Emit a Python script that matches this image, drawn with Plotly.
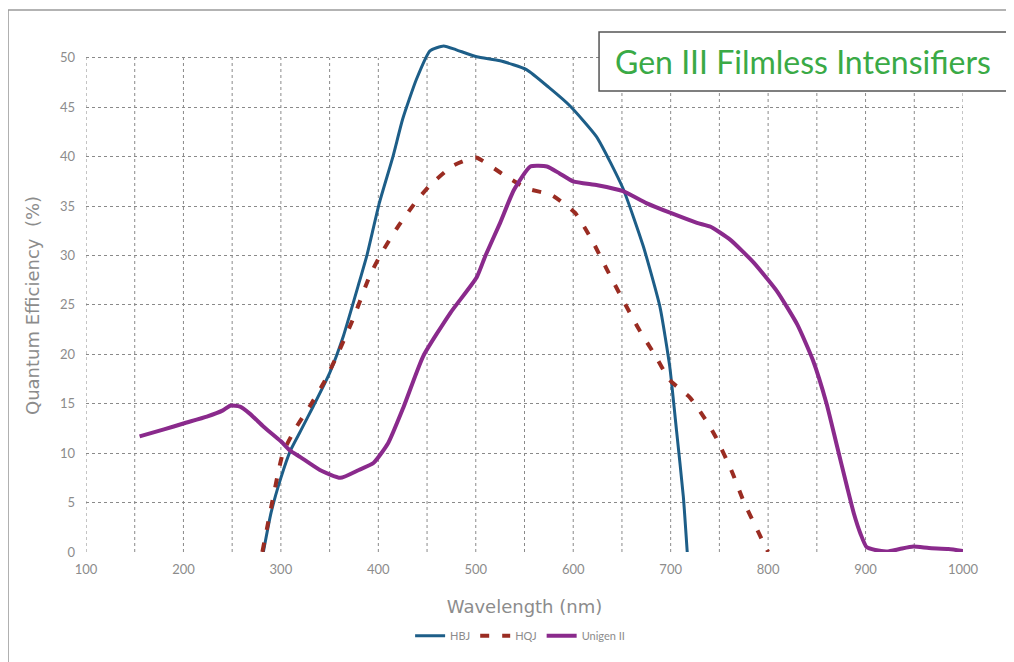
import plotly.graph_objects as go

# ---- data ----
hbj_x = [282, 290, 300, 310, 320, 333, 350, 364, 381, 388, 401, 415, 425, 439, 453,
         467, 480, 501, 525, 552, 575, 597, 624, 651, 672, 689, 699, 706, 713, 717]
hbj_y = [0, 4, 7.5, 10.3, 12.2, 14.7, 18.1, 21.8, 27.5, 29.9, 35.3, 40.0, 43.8, 47.8, 50.7,
         51.2, 50.8, 50.1, 49.7, 48.8, 47.0, 45.1, 42.0, 36.8, 30.9, 24.8, 18.8, 12.3, 5.6, 0]

hqj_x = [281, 290, 302, 315, 330, 345, 360, 375, 391, 403, 420, 439, 453, 477, 500, 528,
         552, 578, 602, 619, 634, 651, 667, 684, 699, 720, 739, 747, 763, 775, 790, 800]
hqj_y = [0, 4.5, 10, 12.5, 14.8, 17.3, 20.4, 23.8, 27.9, 30.2, 32.9, 35.5, 37.1, 39.1, 39.9, 38.2,
         36.8, 36.1, 34.3, 31.6, 28.7, 25.5, 22.6, 19.9, 17.4, 15.6, 12.9, 11.5, 8.1, 5.1, 2.0, 0]

uni_x = [155, 180, 200, 224, 240, 248, 258, 268, 282, 300, 309, 320, 340, 361, 380, 395,
         410, 426, 446, 474, 501, 510, 525, 539, 556, 573, 586, 600, 625, 651, 675, 700,
         727, 741, 761, 785, 809, 830, 846, 860, 870, 881, 888, 895, 901, 910, 922, 935,
         949, 965, 985, 1000]
uni_y = [11.7, 12.4, 13.0, 13.7, 14.3, 14.8, 14.7, 14.0, 12.7, 11.2, 10.3, 9.6, 8.3, 7.5, 8.3, 9.0,
         11.0, 14.7, 19.8, 24.2, 27.8, 30.0, 33.3, 36.6, 39.0, 39.0, 38.3, 37.5, 37.1, 36.5, 35.3, 34.3,
         33.3, 32.9, 31.6, 29.3, 26.4, 23.0, 19.4, 15.0, 11.0, 6.6, 3.9, 1.8, 0.5, 0.2, 0.05, 0.3,
         0.55, 0.4, 0.3, 0.1]

series_names = ["HBJ", "HQJ", "Unigen II"]
x_ticks = [100, 200, 300, 400, 500, 600, 700, 800, 900, 1000]
x_grid_step = 50
y_ticks = [0, 5, 10, 15, 20, 25, 30, 35, 40, 45, 50]

title_text = "Gen III Filmless Intensifiers"
x_title = "Wavelength (nm)"
y_title = "Quantum Efficiency  (%)"

FONT = "Lato"
TFONT = "DejaVu Sans"
GRAY = "#8c8c8c"
GRIDC = "#8a8a8a"

fig = go.Figure()
fig.add_trace(go.Scatter(x=hbj_x, y=hbj_y, name=series_names[0], mode="lines",
                         line=dict(color="#1d5e88", width=3, shape="spline", smoothing=0.5)))
fig.add_trace(go.Scatter(x=hqj_x, y=hqj_y, name=series_names[1], mode="lines",
                         line=dict(color="#9a2c22", width=4, dash="9px,13px", shape="spline", smoothing=0.5)))
fig.add_trace(go.Scatter(x=uni_x, y=uni_y, name=series_names[2], mode="lines",
                         line=dict(color="#8a2a8c", width=4, shape="spline", smoothing=0.5)))

# vertical dotted grid lines stop at the top tick (50) while the plot area
# extends a little above so the HBJ peak is not clipped
y_top = y_ticks[-1]
shapes = []
gx = x_ticks[0]
while gx <= x_ticks[-1]:
    shapes.append(dict(type="line", xref="x", yref="y", x0=gx, x1=gx, y0=0, y1=y_top,
                       line=dict(color=GRIDC, width=1, dash="dot"), layer="below"))
    gx += x_grid_step

shapes += [
    # outer frame (left and top edges)
    dict(type="line", xref="paper", yref="paper", x0=-0.0889, x1=-0.0889, y0=1.0545, y1=-0.25,
         line=dict(color="#9a9a9a", width=1.5)),
    dict(type="line", xref="paper", yref="paper", x0=-0.0889, x1=1.1, y0=1.0545, y1=1.0545,
         line=dict(color="#9a9a9a", width=1.5)),
    # title box
    dict(type="rect", xref="paper", yref="paper", x0=0.585, x1=1.051, y0=0.897, y1=1.0117,
         fillcolor="white", line=dict(color="#555555", width=1.5), layer="above"),
]

# page body has an 8px offset; margins compensate so the plot area lands at
# x 86..963 and y=0..50 at 552..58 of the window
fig.update_layout(
    width=1014, height=662,
    margin=dict(l=78, r=59, t=30, b=118),
    paper_bgcolor="white", plot_bgcolor="white",
    font=dict(family=FONT, color=GRAY, size=13),
    showlegend=True,
    legend=dict(orientation="h", x=0.495, xanchor="center", y=-0.163, yanchor="middle",
                font=dict(size=11, color=GRAY), itemwidth=30, tracegroupgap=0),
    xaxis=dict(range=[100, 1000], tickvals=x_ticks, ticks="", zeroline=False,
               showgrid=False,
               title=dict(text=x_title, font=dict(family=TFONT, size=18, color=GRAY), standoff=24),
               tickfont=dict(size=13, color=GRAY), ticklabelstandoff=8,
               showline=False),
    yaxis=dict(range=[0, 52], tickvals=y_ticks, ticks="", zeroline=False,
               showgrid=True, gridcolor=GRIDC, gridwidth=1, griddash="dot",
               tickfont=dict(size=13, color=GRAY), ticklabelstandoff=10,
               showline=False),
    shapes=shapes,
    annotations=[
        dict(text=title_text, xref="paper", yref="paper", x=0.818, y=0.954,
             xanchor="center", yanchor="middle", showarrow=False,
             font=dict(family=FONT, size=32, color="#3aaa46")),
        dict(text=y_title, xref="paper", yref="paper", x=-0.0616, y=0.4805,
             xanchor="center", yanchor="middle", showarrow=False, textangle=-90,
             font=dict(family=TFONT, size=18, color=GRAY)),
    ],
)

fig.write_html("out.html")
